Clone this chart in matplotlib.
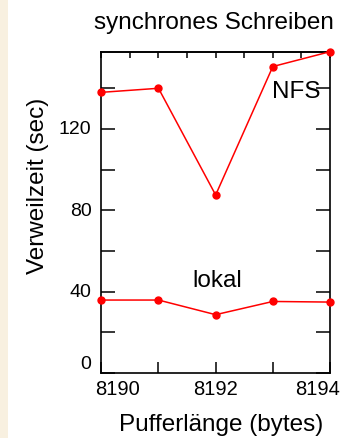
import matplotlib
matplotlib.use("Agg")
import matplotlib.pyplot as plt
from matplotlib.patches import Rectangle
from matplotlib.ticker import MultipleLocator, FixedLocator
from matplotlib.transforms import ScaledTranslation

plt.rcParams['font.family'] = ['Liberation Sans', 'DejaVu Sans']

buffer_len = [8190, 8191, 8192, 8193, 8194]
nfs = [138.0, 140.0, 87.5, 150.7, 158.0]
lokal = [35.8, 35.8, 28.6, 35.1, 34.8]

x_labels = [8190, 8192, 8194]
y_labels = [0, 40, 80, 120]

DPI = 100
fig = plt.figure(figsize=(3.44, 4.39), dpi=DPI)
fig.patches.append(Rectangle((0, 0), 8/344, 1, transform=fig.transFigure,
                             facecolor='#F8F0E0', edgecolor='none', zorder=0))
ax = fig.add_axes([101.3/344, 1-373.8/439, (330-101.3)/344, (373.8-52.7)/439])

for ys in (nfs, lokal):
    ax.plot(buffer_len, ys, color='red', lw=1.1, marker='o', ms=5, clip_on=False, zorder=5)

ax.set_xlim(8190, 8194)
ax.set_ylim(0, 158)
ax.xaxis.set_major_locator(FixedLocator(x_labels))
ax.xaxis.set_minor_locator(MultipleLocator(1))
ax.yaxis.set_major_locator(FixedLocator(y_labels))
ax.yaxis.set_minor_locator(MultipleLocator(20))

ax.tick_params(axis='both', which='both', direction='in', width=1.1, labelsize=14.5)
ax.tick_params(axis='y', which='both', length=10, left=True, right=True, pad=7)
ax.tick_params(axis='y', labelsize=14)
ax.tick_params(axis='x', which='both', length=8, bottom=True, top=False, pad=4.5)
for s in ax.spines.values():
    s.set_linewidth(1.2)

sec = ax.secondary_xaxis('top')
sec.xaxis.set_major_locator(MultipleLocator(0.5))
sec.tick_params(direction='in', length=4, width=1.1, labelbottom=False, labeltop=False)
sec.spines['top'].set_linewidth(1.2)

fig.canvas.draw()
def shift(label, dx, dy):
    label.set_transform(label.get_transform() +
                        ScaledTranslation(dx/DPI, dy/DPI, fig.dpi_scale_trans))

xt = ax.xaxis.get_major_ticks()
shift(xt[0].label1, 16.7, 0)
shift(xt[-1].label1, -12.5, 0)
yt = ax.yaxis.get_major_ticks()
for i, t in enumerate(yt):
    shift(t.label1, 0, 11 if i == 0 else 2)

ax.text(8193.41, 135.7, 'NFS', fontsize=17.5, ha='center', va='baseline')
ax.text(8192.03, 42.6, 'lokal', fontsize=17.5, ha='center', va='baseline')

fig.text(214/344, 1-29.5/439, 'synchrones Schreiben', fontsize=17.5, ha='center', va='baseline')
fig.text(221.5/344, 1-431.5/439, 'Pufferlänge (bytes)', fontsize=17.5, ha='center', va='baseline')
fig.text(38/344, 1-185.5/439, 'Verweilzeit (sec)', fontsize=17.5, ha='center', va='center', rotation=90)

fig.savefig('out.png', dpi=DPI)
